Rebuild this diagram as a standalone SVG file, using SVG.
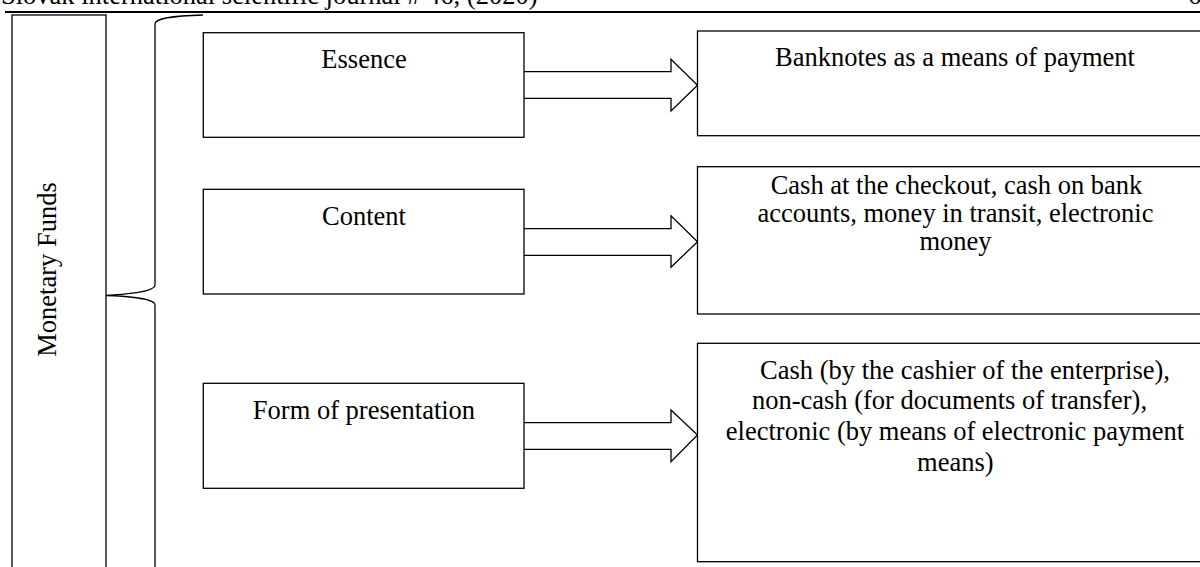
<svg xmlns="http://www.w3.org/2000/svg" width="1200" height="567" viewBox="0 0 1200 567">
<style>
.box{fill:#fff;stroke:#000;stroke-width:1.3}
.arr{fill:#fff;stroke:#000;stroke-width:1.3;stroke-linejoin:miter}
.brace{fill:none;stroke:#000;stroke-width:1.3}
text{font-family:"Liberation Serif","Times New Roman",serif;font-size:26.5px;fill:#000}
.c{text-anchor:middle}
</style>
<rect width="1200" height="567" fill="#fff"/>
<g id="header">
<text x="1" y="3.5">Slovak international scientific journal # 46, (2020)</text>
<text x="1188" y="3.5">6</text>
<line x1="5" y1="12" x2="1200" y2="12" stroke="#000" stroke-width="2"/>
</g>
<g id="monetary-funds">
<rect class="box" x="12" y="15" width="94" height="570"/>
<text class="c" transform="translate(56,269.5) rotate(-90)">Monetary Funds</text>
</g>
<g id="brace">
<path class="brace" d="M203,15 C172,16 155,18 155,24 L155,285 C155,292 122,295 106,295.5 C122,296 155,298 155,305 L155,580"/>
</g>
<g id="connectors">
<polyline class="arr" points="524,71.7 671,71.7 671,59.3 697.5,85.3 671,111 671,98.3 524,98.3"/>
<polyline class="arr" points="524,228.7 671,228.7 671,215.7 697.5,241.7 671,267.3 671,255.3 524,255.3"/>
<polyline class="arr" points="524,422.7 671,422.7 671,410 697.5,435 671,461.7 671,449.3 524,449.3"/>
</g>
<g id="essence">
<rect class="box" x="203.3" y="32.7" width="320.7" height="104.6"/>
<text class="c" x="364" y="68">Essence</text>
</g>
<g id="content">
<rect class="box" x="203.3" y="189.3" width="320.7" height="104.7"/>
<text class="c" x="364" y="224.5">Content</text>
</g>
<g id="form">
<rect class="box" x="203.3" y="383.3" width="320.7" height="105"/>
<text class="c" x="364" y="419">Form of presentation</text>
</g>
<g id="result-essence">
<rect class="box" x="697.5" y="31" width="520" height="104.7"/>
<text class="c" x="955" y="66">Banknotes as a means of payment</text>
</g>
<g id="result-content">
<rect class="box" x="697.5" y="166.7" width="520" height="147.3"/>
<text class="c" x="956.5" y="193.5">Cash at the checkout, cash on bank</text>
<text class="c" x="955.5" y="221.5">accounts, money in transit, electronic</text>
<text class="c" x="955.5" y="249.5">money</text>
</g>
<g id="result-form">
<rect class="box" x="697.5" y="343.3" width="520" height="218.4"/>
<text class="c" x="965" y="378.5">Cash (by the cashier of the enterprise),</text>
<text class="c" x="949.5" y="409">non-cash (for documents of transfer),</text>
<text class="c" x="955" y="439.5">electronic (by means of electronic payment</text>
<text class="c" x="955.3" y="471">means)</text>
</g>
</svg>
